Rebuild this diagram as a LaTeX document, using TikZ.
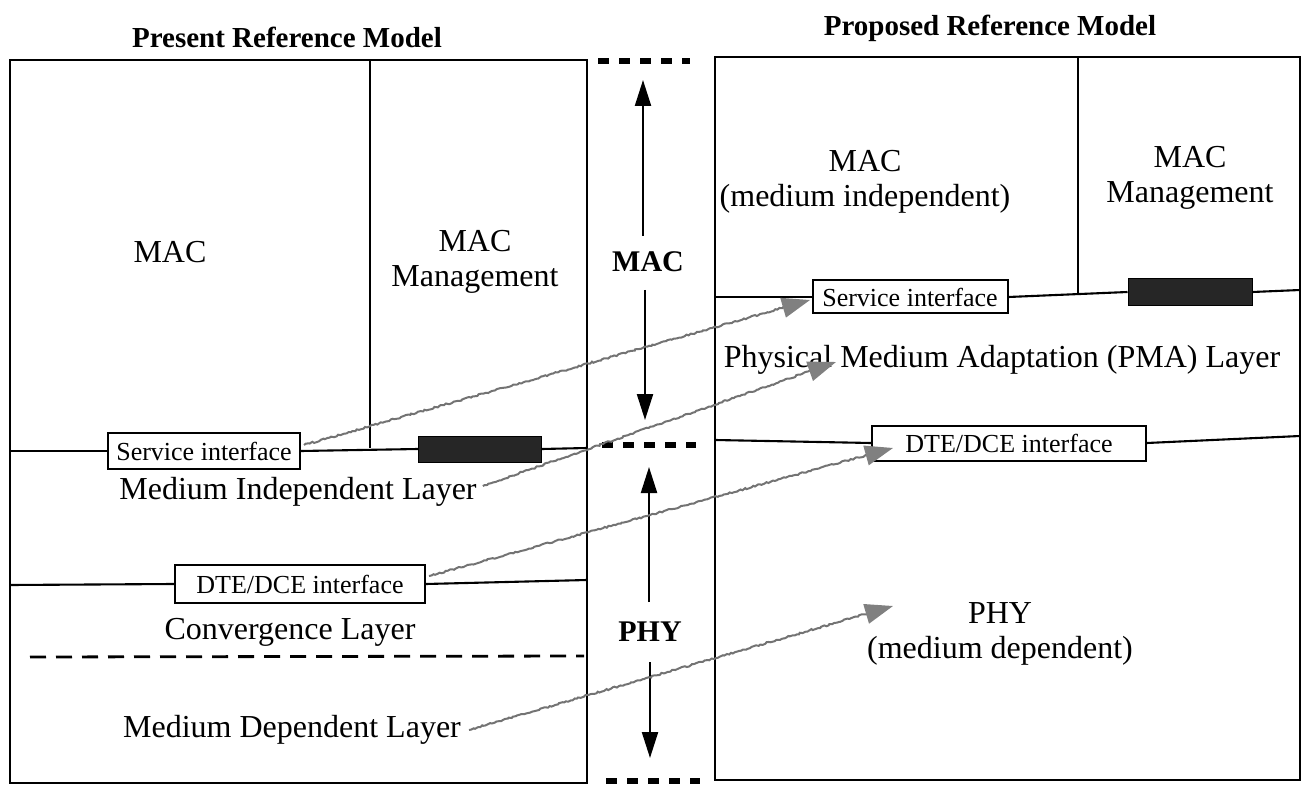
\documentclass[tikz,border=0pt]{standalone}
\usepackage{fontspec}
\setmainfont{Liberation Serif}
\usetikzlibrary{arrows.meta,decorations.pathmorphing,calc}
\begin{document}
\begin{tikzpicture}[x=1pt,y=-1pt,
  frame/.style={line width=2.4pt},
  ln/.style={line width=2.1pt},
  lbl/.style={font=\fontsize{32}{35}\selectfont,align=center,inner sep=0pt},
  ttl/.style={font=\fontsize{29}{32}\selectfont\bfseries,inner sep=0pt},
  mid/.style={font=\fontsize{30}{33}\selectfont\bfseries,inner sep=0pt},
  ibox/.style={draw,line width=2pt,fill=white,font=\fontsize{26}{28}\selectfont,inner sep=0pt,minimum height=36pt},
  blk/.style={draw,fill=black!85,line width=1pt,inner sep=0pt},
  varr/.style={line width=2.2pt,-{Triangle[length=26pt,width=16pt]}},
  bigdash/.style={line width=5.5pt,dash pattern=on 11pt off 10pt},
  thindash/.style={line width=2.8pt,dash pattern=on 16pt off 10pt},
  garr/.style={draw=black!55,line width=2pt,decorate,
    decoration={random steps,segment length=2.2pt,amplitude=0.8pt,post length=22pt},
    -{Triangle[length=28pt,width=20pt,color=black!50]}}
]
\useasboundingbox (0,0) rectangle (1304,786);

% titles
\node[ttl] (t1) at (287,37) {Present Reference Model};
\node[ttl] (t2) at (990,28) {Proposed Reference Model};

% ---------- left box ----------
\draw[frame] (10,60) rectangle (587,783);
\draw[ln] (370,60) -- (370,448);
\node[ibox,minimum width=192pt] (lsi) at (204,451) {Service interface};
\node[blk,minimum width=123pt,minimum height=26pt] (lbk) at (480,449) {};
\coordinate (lsL) at (10,451);
\coordinate (lsR) at (587,448);
\draw[ln] (lsL) -- (lsi.west);
\draw[ln] (lsi.east) -- (lbk.west);
\draw[ln] (lbk.east) -- (lsR);

\node[ibox,minimum width=250pt,minimum height=38pt] (ldte) at (300,584) {DTE/DCE interface};
\coordinate (ldL) at (10,585);
\coordinate (ldR) at (587,580);
\draw[ln] (ldL) -- (ldte.west);
\draw[ln] (ldte.east) -- (ldR);

\coordinate (dl1) at (30,657);
\coordinate (dl2) at (584,656);
\draw[thindash] (dl1) -- (dl2);

\node[lbl] (lmac) at (170,252) {MAC};
\node[lbl] (lmm) at (475,262) {MAC\\Management};
\node[lbl] (mil) at (298,492) {Medium Independent Layer};
\node[lbl] (cvl) at (290,632) {Convergence Layer};
\node[lbl] (mdl) at (292,730) {Medium Dependent Layer};

% ---------- middle ----------
\coordinate (md1a) at (598,61); \coordinate (md1b) at (690,61);
\draw[bigdash] (md1a) -- (md1b);
\coordinate (md2a) at (602,445); \coordinate (md2b) at (696,445);
\draw[bigdash] (md2a) -- (md2b);
\coordinate (md3a) at (606,781); \coordinate (md3b) at (700,781);
\draw[bigdash] (md3a) -- (md3b);

\node[mid] (mmac) at (648,262) {MAC};
\node[mid] (mphy) at (650,632) {PHY};
\coordinate (a1t) at (643,80);
\coordinate (a2t) at (645,420);
\coordinate (a3t) at (649,467);
\coordinate (a4t) at (650,758);
\draw[varr] (643,236) -- (a1t);
\draw[varr] (645,290) -- (a2t);
\draw[varr] (649,602) -- (a3t);
\draw[varr] (650,662) -- (a4t);

% ---------- right box ----------
\draw[frame] (715,57) rectangle (1300,780);
\draw[ln] (1078,57) -- (1078,293);
\node[ibox,minimum width=195pt,minimum height=33pt] (rsi) at (910,297) {Service interface};
\node[blk,minimum width=124pt,minimum height=27pt] (rbk) at (1190,292) {};
\coordinate (rsL) at (715,297);
\coordinate (rsR) at (1300,290);
\draw[ln] (rsL) -- (rsi.west);
\draw[ln] (rsi.east) -- (rbk.west);
\draw[ln] (rbk.east) -- (rsR);

\node[ibox,minimum width=274pt,minimum height=35pt] (rdte) at (1009,443) {DTE/DCE interface};
\coordinate (rdL) at (715,440);
\coordinate (rdR) at (1300,436);
\draw[ln] (rdL) -- (rdte.west);
\draw[ln] (rdte.east) -- (rdR);

\node[lbl] (rmac) at (865,182) {MAC\\(medium independent)};
\node[lbl] (rmm) at (1190,178) {MAC\\Management};
\node[lbl] (pma) at (1002,360) {Physical Medium Adaptation (PMA) Layer};
\node[lbl] (rphy) at (1000,634) {PHY\\(medium dependent)};

% ---------- gray arrows ----------
\coordinate (g1) at (810,300);
\coordinate (g2) at (836,362);
\coordinate (g3) at (893,448);
\coordinate (g4) at (893,606);
\draw[garr] ($(lsi.east)+(3,-6)$) -- (g1);
\draw[garr] ($(mil.east)+(6,-6)$) -- (g2);
\draw[garr] ($(ldte.east)+(3,-8)$) -- (g3);
\draw[garr] ($(mdl.east)+(8,0)$) -- (g4);
\end{tikzpicture}
\end{document}
